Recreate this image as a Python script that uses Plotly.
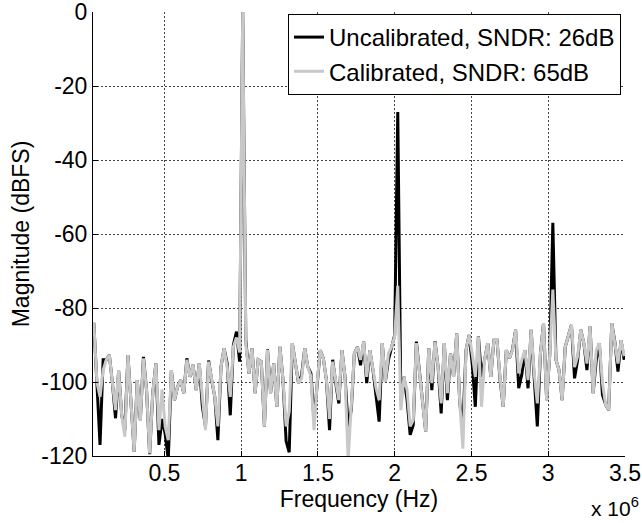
import numpy as np
import plotly.graph_objects as go

# FFT bins: 20.2 kHz spacing starting at 40.4 kHz (fundamental lands on 1.01 MHz)
bin_start_hz = 40.4e3
bin_step_hz = 20.2e3

# magnitude (dBFS), one value per bin
uncalibrated_db = [
    -84, -100, -117, -94, -94, -92.7, -100.3, -109.8, -97, -109,
    -113, -92.7, -105.8, -118.8, -99.5, -110.3, -93.2, -102.2, -119.5, -103,
    -95, -117, -110, -114, -121, -96.8, -104.9, -101.3, -99.5, -103,
    -93.6, -98.6, -95.4, -102.2, -95, -106.7, -112, -94.2, -99.5, -104,
    -115.7, -95.9, -90.9, -95, -109, -90, -86.4, -94.5, 0, -88.7,
    -97.7, -90.9, -103, -94, -94.5, -112, -91.2, -103, -95, -106.7,
    -90.5, -99.5, -116, -119, -89.5, -95, -100.3, -98.1, -90.9, -95.9,
    -97.7, -110.3, -100.3, -91.4, -93.6, -99.5, -113, -94, -100.3, -105.8,
    -91.4, -98.6, -112, -107.6, -92.3, -90.5, -95.5, -89.1, -100.3, -91.4,
    -96.8, -104, -110.7, -89.5, -100, -94, -90.5, -87.3, -27, -105,
    -98.6, -104.9, -114.3, -111.6, -89.1, -97.7, -104.9, -113.4, -90.9, -102.2,
    -89, -95.9, -108.5, -89.5, -104.9, -92.3, -98.6, -86.9, -105.8, -112,
    -91.4, -87.3, -95, -106.7, -87.7, -98.6, -94, -89.5, -98.6, -88.7,
    -88.7, -99.5, -106.7, -91.4, -93.6, -91.2, -85.9, -101.7, -98, -91.4,
    -101.7, -85.9, -99, -112, -92.3, -84.1, -104.9, -92.7, -57, -94,
    -96.8, -104.9, -90.5, -87.7, -84.6, -99, -94, -85.9, -89.5, -96.8,
    -85, -103, -94, -89.5, -103.5, -106, -107.6, -84.1, -89.2, -97.2,
    -88.7, -94,
]

calibrated_db = [
    -84, -100, -104, -96.8, -94, -92.7, -100.3, -107.6, -97, -109,
    -114.8, -92.7, -105.8, -118.8, -99.5, -110.3, -93.6, -102.2, -119.3, -103,
    -95, -113, -102, -112, -115.7, -96.8, -104.9, -101.3, -99.5, -103,
    -94, -98.6, -95.4, -102.2, -95, -104.9, -113, -94.5, -99.5, -104,
    -112, -95.9, -90.9, -96, -104, -90.5, -88, -92, 0, -89.5,
    -97.7, -90.9, -103, -94, -94.5, -112, -91.4, -103, -95, -106.7,
    -90.5, -99.5, -112, -108, -89.5, -95, -100.3, -99, -90.9, -95.9,
    -98.5, -113, -100.3, -91.4, -93.6, -99.5, -110, -94.5, -100.3, -104.9,
    -91.4, -98.6, -121, -104.9, -92.3, -90.5, -94, -89.1, -98.6, -91.4,
    -96.8, -101.7, -104.9, -89.5, -100, -92.3, -90.5, -87.7, -74, -107.6,
    -98.6, -102.2, -112, -110.3, -89.5, -97.7, -104.9, -113.4, -90.9, -100.3,
    -89.1, -95.9, -105.8, -89.5, -103, -92.3, -98.6, -86.9, -105.8, -118,
    -91.4, -87.3, -92.3, -98.6, -87.7, -106.7, -94, -89.5, -98.6, -88.7,
    -88.7, -99, -106.7, -91.4, -93.6, -91.4, -85.9, -97.7, -94, -91.4,
    -99.5, -85.9, -97.7, -105.8, -92.3, -84.1, -104.9, -92.7, -75, -94,
    -96.8, -104.9, -90.5, -87.7, -84.6, -96, -93, -85.9, -89.5, -95,
    -85, -103, -91.4, -89.5, -100.3, -106, -107.6, -84.1, -89.5, -95,
    -88.7, -93,
]

freq_hz = bin_start_hz + bin_step_hz * np.arange(len(calibrated_db))

x_ticks = [0.5e6, 1e6, 1.5e6, 2e6, 2.5e6, 3e6, 3.5e6]
x_ticklabels = ["0.5", "1", "1.5", "2", "2.5", "3", "3.5"]
y_ticks = [0, -20, -40, -60, -80, -100, -120]
y_ticklabels = ["0", "-20", "-40", "-60", "-80", "-100", "-120"]

FONT = "Liberation Sans, Arial, Helvetica, sans-serif"

fig = go.Figure()
fig.add_trace(go.Scatter(
    x=freq_hz, y=uncalibrated_db,
    mode="lines",
    line=dict(color="black", width=3),
    name="Uncalibrated, SNDR: 26dB",
))
fig.add_trace(go.Scatter(
    x=freq_hz, y=calibrated_db,
    mode="lines",
    line=dict(color="#c8c8c8", width=3),
    name="Calibrated, SNDR: 65dB",
))

fig.update_layout(
    width=642, height=523,
    margin=dict(l=93, r=17, t=12, b=67, autoexpand=False),
    paper_bgcolor="white",
    plot_bgcolor="white",
    font=dict(family=FONT, size=23, color="black"),
    legend=dict(
        x=0.9925, y=0.9955, xanchor="right", yanchor="top",
        bgcolor="white", bordercolor="black", borderwidth=1,
        font=dict(size=24),
        tracegroupgap=0, itemwidth=30,
    ),
    xaxis=dict(
        range=[0.035e6, 3.5e6],
        tickvals=x_ticks, ticktext=x_ticklabels,
        ticks="inside", ticklen=5, tickcolor="black",
        ticklabeloverflow="allow", ticklabelstandoff=-4,
        automargin=False,
        showline=True, linecolor="black", linewidth=1, mirror=False,
        showgrid=True, gridcolor="#444", gridwidth=1, griddash="2px,2px",
        zeroline=False,
        title=dict(text="Frequency (Hz)", standoff=0, font=dict(size=23)),
    ),
    yaxis=dict(
        range=[-120, 0],
        tickvals=y_ticks, ticktext=y_ticklabels,
        ticks="inside", ticklen=5, tickcolor="black",
        ticklabeloverflow="allow",
        automargin=False,
        showline=True, linecolor="black", linewidth=1, mirror=False,
        showgrid=True, gridcolor="#444", gridwidth=1, griddash="2px,2px",
        zeroline=False,
        title=dict(text="Magnitude (dBFS)", standoff=5, font=dict(size=23)),
    ),
    annotations=[dict(
        text="x 10<sup>6</sup>", xref="paper", yref="paper",
        x=1.03, y=-0.115, xanchor="right", yanchor="middle",
        showarrow=False, font=dict(size=21),
    )],
)

fig.write_html(
    "out.html",
    config={"displayModeBar": False},
    post_script="document.body.style.margin='0';",
)
